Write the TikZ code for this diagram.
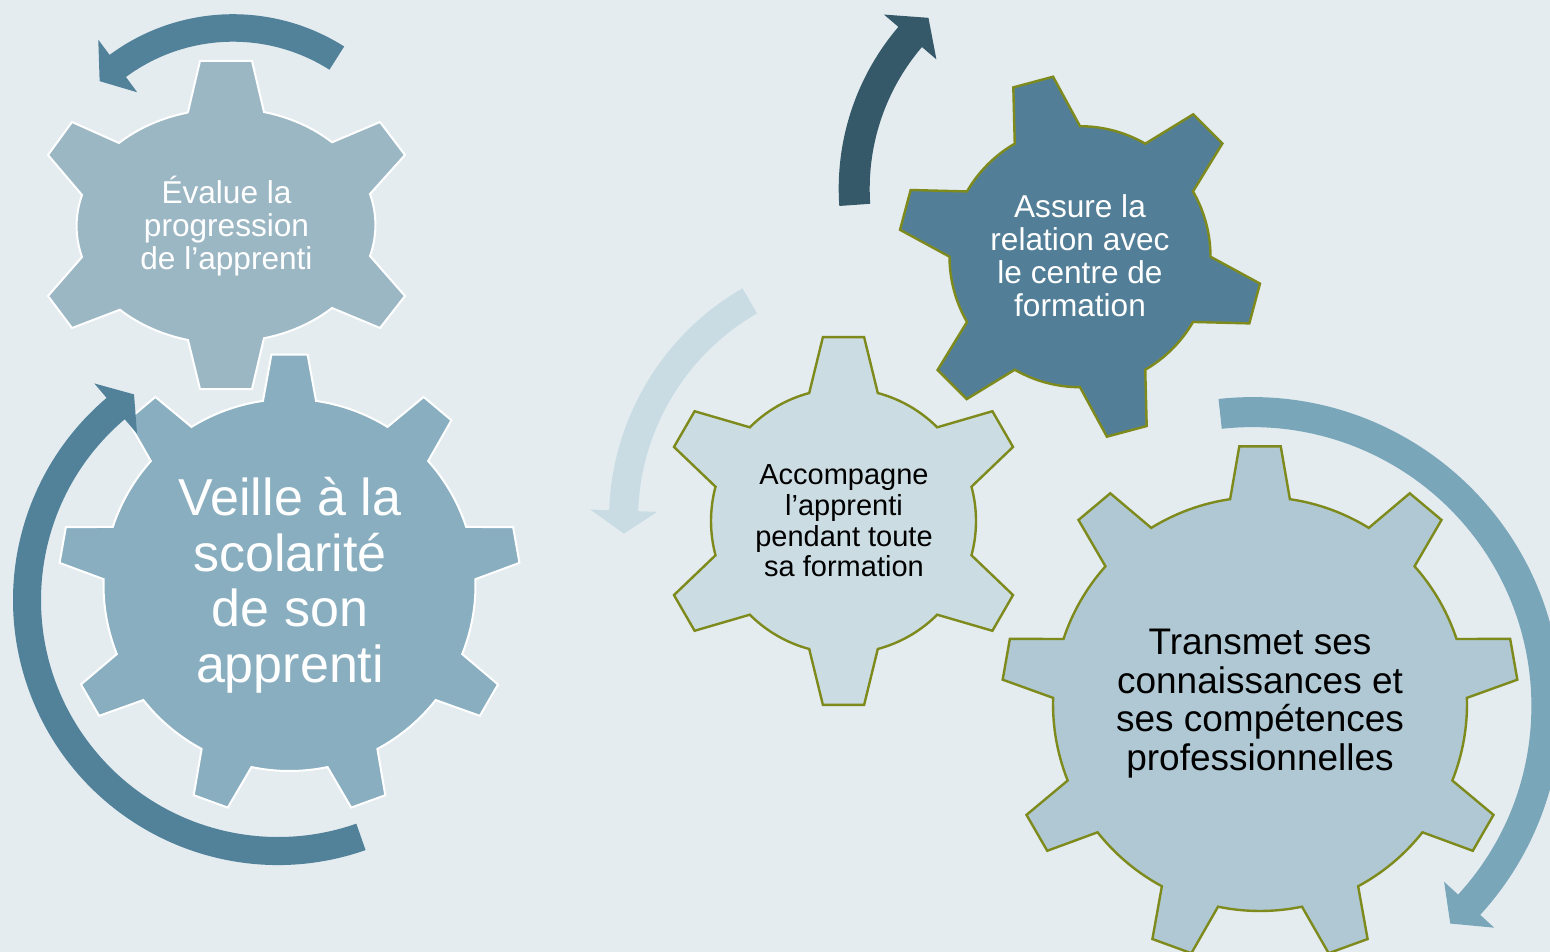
\documentclass[tikz,border=0pt]{standalone}
\usepackage{fontspec}
\setmainfont{Liberation Sans}
\definecolor{bg}{HTML}{E4ECF0}
\definecolor{gOne}{HTML}{9CB7C4}
\definecolor{gTwo}{HTML}{88AEBF}
\definecolor{gThree}{HTML}{CBDCE3}
\definecolor{gFour}{HTML}{527F97}
\definecolor{gFive}{HTML}{AFC8D4}
\definecolor{arMid}{HTML}{52829A}
\definecolor{arDark}{HTML}{36596A}
\definecolor{arLight}{HTML}{C9DCE3}
\definecolor{arRight}{HTML}{7AA6BA}
\definecolor{olive}{HTML}{7E8A1C}

\tikzset{
  whitegear/.style={draw=white, line width=2pt, line join=miter},
  olivegear/.style={draw=olive, line width=2.4pt, line join=miter},
  geartext/.style={align=center, inner sep=0pt},
}

% gear: cx, cy, teeth, body radius, tip radius, base half-angle, tip half-angle, first tooth angle, style
\newcommand{\gearshape}[9]{%
  \pgfmathsetmacro\gstep{360/#3}%
  \begin{scope}[shift={(#1,#2)}]
    \path[#9] ({#8-#6}:#4) \foreach \k in {1,...,#3}{
      -- ({#8+(\k-1)*\gstep-#7}:#5) -- ({#8+(\k-1)*\gstep+#7}:#5) -- ({#8+(\k-1)*\gstep+#6}:#4)
      arc[start angle={#8+(\k-1)*\gstep+#6}, end angle={#8+\k*\gstep-#6}, radius=#4]} -- cycle;
  \end{scope}}

% circular arrow: cx, cy, inner r, outer r, tail angle, head base angle, tip angle, style
\newcommand{\circarrow}[8]{%
  \pgfmathsetmacro\rmid{(#3+#4)/2}%
  \pgfmathsetmacro\rin{#3-19}%
  \pgfmathsetmacro\rout{#4+19}%
  \begin{scope}[shift={(#1,#2)}]
    \fill[#8] (#5:#4) arc[start angle=#5, end angle=#6, radius=#4]
      -- (#6:\rout) -- (#7:\rmid) -- (#6:\rin) -- (#6:#3)
      arc[start angle=#6, end angle=#5, radius=#3] -- cycle;
  \end{scope}}

\begin{document}
\begin{tikzpicture}[x=1pt,y=-1pt]
\useasboundingbox (0,0) rectangle (1550,952);
\clip (0,0) rectangle (1550,952);
\fill[bg] (0,0) rectangle (1550,952);

% Gear 1 (stretched, six teeth)
\path[fill=gOne, whitegear] (188,112) -- (200,61) -- (252,61) -- (264,112)
  arc[start angle=-75.5, end angle=-45, x radius=149, y radius=116]
  -- (380,122) -- (405,155) -- (370,194)
  arc[start angle=-15.5, end angle=15.5, x radius=149, y radius=116]
  -- (405,296) -- (380,328) -- (332,308)
  arc[start angle=45, end angle=75.5, x radius=149, y radius=116]
  -- (252,389) -- (200,389) -- (188,340)
  arc[start angle=104.5, end angle=135, x radius=149, y radius=116]
  -- (72,328) -- (48,296) -- (82,257)
  arc[start angle=164.5, end angle=195.5, x radius=149, y radius=116]
  -- (48,155) -- (72,122) -- (119,143)
  arc[start angle=225, end angle=255.5, x radius=149, y radius=116] -- cycle;

% Gear 2
\gearshape{289.5}{585}{9}{186}{231}{8.2}{4.5}{-90}{fill=gTwo, whitegear}
% Gear 3
\gearshape{843.5}{521}{6}{132.5}{185}{15}{6.4}{-90}{fill=gThree, olivegear}
% Gear 4
\gearshape{1080}{256.7}{6}{130.5}{182}{15}{6.5}{-105}{fill=gFour, olivegear}
% Gear 5
\gearshape{1260}{704}{9}{207}{258.5}{8.3}{4.6}{-90}{fill=gFive, olivegear}

% Arrows
\circarrow{233}{221.7}{180}{207.5}{-57.6}{-126.5}{-133.5}{arMid}
\circarrow{278}{600}{237}{265}{70.7}{229.7}{235}{arMid}
\circarrow{1087.7}{188.6}{218}{249}{176}{220.5}{227}{arDark}
\circarrow{876}{519.5}{238}{267}{240}{182}{176.8}{arLight}
\circarrow{1252.4}{706.1}{279}{309}{-96.3}{42.5}{47.7}{arRight}

% Texts
\node[geartext, text=white, font={\fontsize{31.6}{33}\selectfont}] (t1) at (226.5,226) {Évalue la\\progression\\de l’apprenti};
\node[geartext, text=white, font={\fontsize{52}{55.5}\selectfont}] (t2) at (290,585) {Veille à la\\scolarité\\de son\\apprenti};
\node[geartext, text=black, font={\fontsize{29}{30.7}\selectfont}] (t3) at (844,521) {Accompagne\\l’apprenti\\pendant toute\\sa formation};
\node[geartext, text=white, font={\fontsize{31.6}{33}\selectfont}] (t4) at (1080,256) {Assure la\\relation avec\\le centre de\\formation};
\node[geartext, text=black, font={\fontsize{37}{38.7}\selectfont}] (t5) at (1260,703.5) {Transmet ses\\connaissances et\\ses compétences\\professionnelles};
\end{tikzpicture}
\end{document}
